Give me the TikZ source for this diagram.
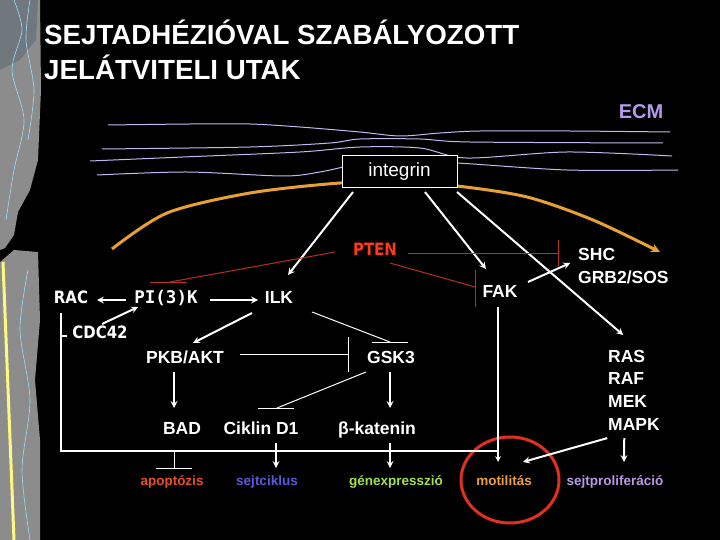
\documentclass[tikz,border=0pt]{standalone}
\usepackage{fontspec}
\setmainfont{Liberation Sans}
\newfontfamily\ptenfont{DejaVu Sans}[FakeStretch=0.88]
\newfontfamily\pimono{DejaVu Sans Mono}
\usepackage{tikz}
\usetikzlibrary{arrows, positioning, calc}
\definecolor{ecmlav}{HTML}{C4B8F0}
\definecolor{ecmtext}{HTML}{B49AEC}
\definecolor{memorange}{HTML}{E8A030}
\definecolor{ptenred}{HTML}{FF3A1A}
\definecolor{ptenline}{HTML}{B83020}
\definecolor{apopred}{HTML}{E8502A}
\definecolor{cycleblue}{HTML}{5A5ADC}
\definecolor{genegreen}{HTML}{A0E050}
\definecolor{motorange}{HTML}{E8A040}
\definecolor{prolilac}{HTML}{B898E8}
\definecolor{circred}{HTML}{E03020}
\definecolor{stripgray}{HTML}{8C8C8C}
\tikzset{
    title/.style={text=white, font=\fontsize{27.7}{33}\selectfont\bfseries, inner sep=0pt},
    ecm/.style={text=ecmtext, font=\fontsize{20}{24}\selectfont\bfseries, inner sep=0pt, text height=14.3pt, text depth=0pt},
    membox/.style={rectangle, draw=white, fill=black, line width=1pt, minimum width=115pt, minimum height=32pt, text=white, font=\fontsize{19}{22}\selectfont, inner sep=0pt},
    prot/.style={text=white, font=\fontsize{17.5}{21}\selectfont\bfseries, inner sep=0pt, text height=12.5pt, text depth=0pt},
    oldprot/.style={text=white, font=\ptenfont\fontsize{17}{20}\selectfont\bfseries, inner sep=0pt, text height=12.4pt, text depth=0pt},
    monoprot/.style={text=white, font=\pimono\fontsize{17.5}{21}\selectfont\bfseries, inner sep=0pt, text height=12.8pt, text depth=0pt},
    outcome/.style={font=\fontsize{13.5}{16}\selectfont\bfseries, inner sep=0pt, text height=7pt, text depth=0pt},
    arrow/.style={draw=white, line width=2pt, ->, >=stealth},
    inhib/.style={draw=white, line width=1pt},
    ptenbar/.style={draw=ptenline, line width=1pt},
    frame/.style={draw=white, line width=1.5pt},
    ecmline/.style={draw=ecmlav, line width=1pt},
    membrane/.style={draw=memorange, line width=3pt, ->, >=stealth},
    motring/.style={draw=circred, line width=3pt}
}
\begin{document}
\begin{tikzpicture}[x=1pt, y=-1pt, node distance=22.7pt]
    \fill[black] (0,0) rectangle (720,540);
    \useasboundingbox (0,0) rectangle (720,540);

    % left decoration strip
    \fill[stripgray] (0,0) -- (40,0) -- (41,90) -- (38,160) -- (30,190) -- (18,212) -- (14,235) -- (5,248) -- (0,250) -- cycle;
    \fill[stripgray] (0,262) -- (14,250) -- (38,252) -- (40,320) -- (35,380) -- (40,440) -- (40,540) -- (0,540) -- cycle;
    \fill[black!70!cyan!40!gray] (0,0) -- (38,0) -- (36,40) -- (20,60) -- (0,70) -- cycle;
    \draw[cyan!40!white, line width=0.6pt] plot[smooth] coordinates {(14,0) (22,30) (12,70) (24,120) (14,170) (6,220)};
    \draw[cyan!40!white, line width=0.6pt] plot[smooth] coordinates {(30,0) (26,40) (34,90) (28,140)};
    \draw[cyan!40!white, line width=0.6pt] plot[smooth] coordinates {(28,270) (20,330) (30,400) (22,470) (30,540)};
    \draw[yellow!50!white, line width=3pt] (3,262) -- (14,540);

    % ECM fibres
    \draw[ecmline] plot[smooth] coordinates {(108,125) (190,124) (250,124) (300,127) (360,132) (400,136) (440,133) (480,131) (570,131) (670,132)};
    \draw[ecmline] plot[smooth] coordinates {(102,149) (250,147) (330,143) (360,139) (420,139) (470,142) (663,143)};
    \draw[ecmline] plot[smooth] coordinates {(90,161) (183,157) (300,152) (360,147) (420,148) (467,158) (567,152) (672,156)};
    \draw[ecmline] plot[smooth] coordinates {(97,175) (187,172) (283,176) (320,172) (360,164) (410,162) (457,163) (567,170) (678,170)};

    % membrane
    \draw[membrane] plot[smooth] coordinates {(112,249) (167,213) (250,193) (340,183) (400,182) (457,186) (527,197) (593,220) (660,252)};

    % labels
    \node[title, anchor=base west] (title1) at (44,45) {SEJTADHÉZIÓVAL SZABÁLYOZOTT};
    \node[title, anchor=base west] (title2) at (44,80) {JELÁTVITELI UTAK};
    \node[ecm] (ecm) at (641,111) {ECM};
    \node[membox] (integrin) at (399.5,172) {integrin};
    \node[oldprot, text=ptenred] (pten) at (375,249) {PTEN};
    \node[oldprot] (rac) at (71,297) {RAC};
    \node[monoprot] (pi3k) at (166,297) {PI(3)K};
    \node[prot] (ilk) at (279,297) {ILK};
    \node[oldprot] (cdc42) at (100,332) {CDC42};
    \node[prot] (fak) at (500,291) {FAK};
    \node[prot, anchor=west] (shc) at (578,254) {SHC};
    \node[prot, below=23pt of shc.west, anchor=west] (grb) {GRB2/SOS};
    \node[prot] (pkb) at (185,357) {PKB/AKT};
    \node[prot] (gsk) at (391,357) {GSK3};
    \node[prot] (bad) at (182,428) {BAD};
    \node[prot] (ciklin) at (261,428) {Ciklin D1};
    \node[prot] (bkat) at (377,428) {β-katenin};
    \node[prot, anchor=west] (ras) at (608,356) {RAS};
    \node[prot, below=of ras.west, anchor=west] (raf) {RAF};
    \node[prot, below=of raf.west, anchor=west] (mek) {MEK};
    \node[prot, below=of mek.west, anchor=west] (mapk) {MAPK};
    \node[outcome, text=apopred] (apop) at (172,482) {apoptózis};
    \node[outcome, text=cycleblue] (sejtc) at (267,482) {sejtciklus};
    \node[outcome, text=genegreen] (genex) at (396,482) {génexpresszió};
    \node[outcome, text=motorange] (motil) at (504,482) {motilitás};
    \node[outcome, text=prolilac] (prolif) at (615,482) {sejtproliferáció};
    \draw[motring] ($(motil)+(6,-2)$) ellipse [x radius=49, y radius=43];

    % integrin signals
    \draw[arrow] ($(integrin)+(-46.5,20)$) -- ($(ilk)+(9,-22)$);
    \draw[arrow] ($(integrin)+(25.5,20)$) -- ($(fak)+(-14,-22)$);
    \draw[arrow] ($(integrin)+(57.5,20)$) -- ($(ras)+(-3.5,-21)$);

    % PTEN
    \draw[ptenbar] ($(pten)+(-40,3)$) -- ($(pi3k)+(4,-15)$);
    \draw[ptenbar] ($(pi3k)+(-16,-15)$) -- ($(pi3k)+(21,-15)$);
    \draw[ptenbar] ($(pten)+(33,4)$) -- ($(shc)+(-38.5,-1)$);
    \draw[ptenbar] ($(shc)+(-38.5,-14)$) -- ($(shc)+(-38.5,12)$);
    \draw[ptenbar] ($(pten)+(15,14)$) -- ($(fak)+(-25,-4)$);
    \draw[ptenbar] ($(fak)+(-25,-21)$) -- ($(fak)+(-25,16)$);

    % PI(3)K branch
    \draw[arrow] ($(pi3k)+(-40,3)$) -- ($(rac)+(26,3)$);
    \draw[arrow] ($(pi3k)+(44,3)$) -- ($(ilk)+(-21,3)$);
    \draw[arrow] ($(cdc42)+(2,-8)$) -- ($(pi3k)+(-28,10)$);
    \coordinate (join) at ($(fak)+(-2,160)$);
    \draw[frame] ($(rac)+(-10,16)$) |- (join);
    \draw[frame] ($(cdc42)+(-33,4)$) -- ($(cdc42)+(-39,4)$);
    \draw[arrow, line width=1.5pt] ($(fak)+(-2,16)$) -- ($(motil)+(-6,-20)$);
    \draw[arrow] ($(fak)+(28,-9)$) -- ($(shc)+(-26.5,9)$);

    % ILK branch
    \draw[arrow] ($(ilk)+(-27,16)$) -- ($(pkb)+(8,-14)$);
    \draw[inhib] ($(pkb)+(55,-3)$) -- ($(gsk)+(-43,-3)$);
    \draw[inhib] ($(gsk)+(-43,-20)$) -- ($(gsk)+(-43,15)$);
    \draw[arrow] ($(pkb)+(-11,15)$) -- ($(bad)+(-8,-20)$);
    \draw[inhib] ($(ilk)+(33,15)$) -- ($(gsk)+(-1,-15)$);
    \draw[inhib] ($(gsk)+(-19,-15)$) -- ($(gsk)+(17,-15)$);
    \draw[inhib] ($(gsk)+(-25,15)$) -- ($(ciklin)+(16,-20)$);
    \draw[inhib] ($(ciklin)+(-3,-20)$) -- ($(ciklin)+(33,-20)$);
    \draw[arrow] ($(gsk)+(-1,15)$) -- ($(bkat)+(13,-20)$);

    % outcomes
    \draw[inhib] ($(bad)+(-8,24)$) -- ($(apop)+(2,-14)$);
    \draw[inhib] ($(apop)+(-16,-14)$) -- ($(apop)+(20,-14)$);
    \draw[arrow] ($(ciklin)+(15,15)$) -- ($(sejtc)+(9,-14)$);
    \draw[arrow] ($(bkat)+(13,15)$) -- ($(genex)+(-6,-14)$);
    \draw[arrow] ($(mapk)+(-26.7,14)$) -- ($(motil)+(19,-20)$);
    \draw[arrow] ($(mapk)+(-9.7,14)$) -- ($(prolif)+(9,-20)$);
\end{tikzpicture}
\end{document}
